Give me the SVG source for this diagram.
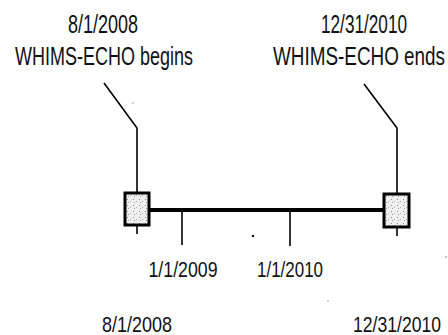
<svg xmlns="http://www.w3.org/2000/svg" width="448" height="335" viewBox="0 0 448 335">
  <defs>
    <pattern id="speck" width="6" height="6" patternUnits="userSpaceOnUse">
      <rect width="6" height="6" fill="#efefef"/>
      <rect x="1" y="1" width="1" height="1" fill="#888"/>
      <rect x="4" y="3" width="1" height="1" fill="#aaa"/>
      <rect x="2" y="4" width="1" height="1" fill="#999"/>
    </pattern>
  </defs>
  <style>
    text { font-family: "Liberation Sans", Arial, sans-serif; fill: #111; text-anchor: middle; }
    .big { font-size: 25px; }
    .small { font-size: 22px; }
    .box { fill: url(#speck); stroke: #000; stroke-width: 3; }
    .thin { stroke: #000; stroke-width: 1.6; fill: none; }
    .axis { stroke: #000; stroke-width: 4; fill: none; }
    .noise { fill: #777; }
  </style>
  <rect width="448" height="335" fill="#fff"/>

  <g id="connectors">
    <path class="thin" d="M104,83 L137,128 L137,193"/>
    <path class="thin" d="M364,84 L397,128 L397,193"/>
    <line class="axis" x1="150" y1="210" x2="383" y2="210"/>
    <line class="thin" x1="182" y1="210" x2="182" y2="245"/>
    <line class="thin" x1="290" y1="210" x2="290" y2="246"/>
    <line class="thin" x1="137" y1="226" x2="137" y2="234"/>
    <line class="thin" x1="397" y1="228" x2="397" y2="236"/>
  </g>

  <g id="label-start">
    <text class="big" x="103" y="33" textLength="70" lengthAdjust="spacingAndGlyphs">8/1/2008</text>
    <text class="big" x="104" y="65" textLength="178" lengthAdjust="spacingAndGlyphs">WHIMS-ECHO begins</text>
  </g>
  <g id="label-end">
    <text class="big" x="364" y="33" textLength="86" lengthAdjust="spacingAndGlyphs">12/31/2010</text>
    <text class="big" x="359" y="65" textLength="172" lengthAdjust="spacingAndGlyphs">WHIMS-ECHO ends</text>
  </g>

  <g id="box-start">
    <rect class="box" x="125" y="193" width="24" height="32"/>
  </g>
  <g id="box-end">
    <rect class="box" x="384" y="194" width="25" height="33"/>
  </g>

  <g id="tick-2009">
    <text class="small" x="183" y="277" textLength="69" lengthAdjust="spacingAndGlyphs">1/1/2009</text>
  </g>
  <g id="tick-2010">
    <text class="small" x="290" y="277" textLength="66" lengthAdjust="spacingAndGlyphs">1/1/2010</text>
  </g>

  <g id="bottom-start">
    <text class="small" x="137" y="332" textLength="70" lengthAdjust="spacingAndGlyphs">8/1/2008</text>
  </g>
  <g id="bottom-end">
    <text class="small" x="397" y="332" textLength="88" lengthAdjust="spacingAndGlyphs">12/31/2010</text>
  </g>

  <circle cx="253" cy="236" r="1.3" fill="#222"/>
  <circle class="noise" cx="133" cy="103" r="0.7"/>
  <circle class="noise" cx="446" cy="257" r="0.8"/>
  <circle class="noise" cx="328" cy="301" r="0.7"/>
</svg>
